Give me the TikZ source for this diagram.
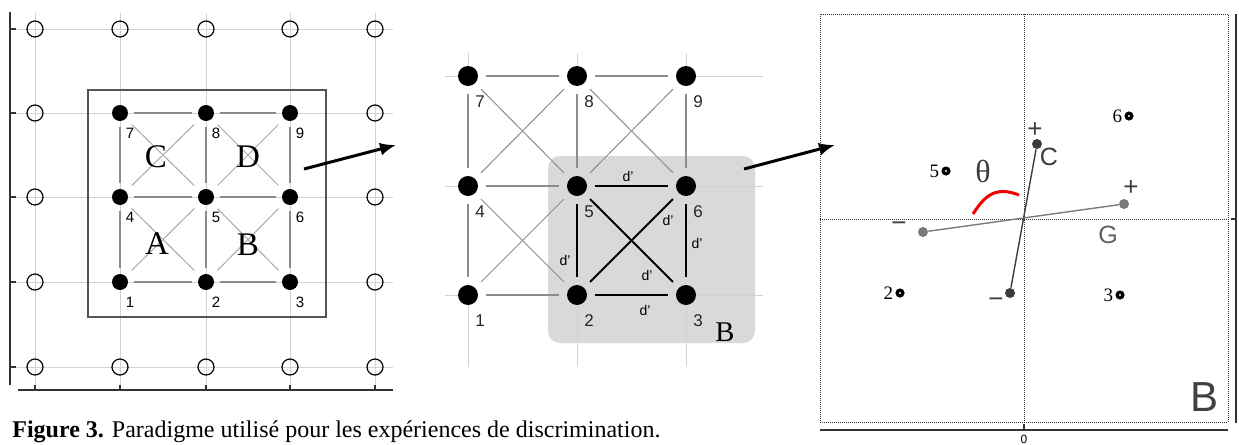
\documentclass[tikz,border=0pt]{standalone}
\usepackage{fontspec}
\setmainfont{Liberation Serif}
\setsansfont{Liberation Sans}
\usetikzlibrary{arrows.meta}
\definecolor{gridlt}{HTML}{D2D2D2}
\definecolor{linkgr}{HTML}{8C8C8C}
\definecolor{diaggr}{HTML}{A8A8A8}
\definecolor{boxgr}{HTML}{555555}
\definecolor{zonegr}{HTML}{D9D9D9}
\definecolor{axisgr}{HTML}{333333}
\definecolor{headC}{HTML}{3C3C3C}
\definecolor{headG}{HTML}{7A7A7A}
\definecolor{anglered}{HTML}{F00000}
\tikzset{
  dot/.style    ={circle, inner sep=0pt},
  opendot/.style={dot, minimum size=8pt, draw=black, line width=0.6pt},
  fulldot/.style={dot, minimum size=8pt, fill=black},
  middot/.style ={dot, minimum size=10pt, fill=black},
  stimdot/.style={dot, minimum size=4.6pt, fill=black,
                  path picture={\fill[white] (path picture bounding box.center) circle (0.6pt);}},
  cdot/.style   ={dot, minimum size=5pt, fill=headC},
  gdot/.style   ={dot, minimum size=5pt, fill=headG},
  % light grid behind the stimuli
  gridline/.style={draw=gridlt, line width=0.5pt},
  side/.style   ={draw=linkgr, line width=0.6pt, shorten >=3pt, shorten <=3pt},
  cross/.style  ={draw=diaggr, line width=0.5pt, shorten >=4pt, shorten <=4pt},
  mside/.style  ={draw=linkgr, line width=0.6pt, shorten >=4pt, shorten <=4pt},
  mkey/.style   ={draw=black, line width=1pt, shorten >=4pt, shorten <=4pt},
  axis/.style   ={draw=axisgr, line width=0.8pt},
  dotline/.style={draw=axisgr, line width=0.5pt, dash pattern=on 0.5pt off 0.5pt},
  jump/.style   ={draw=black, line width=1.5pt, -{Latex[length=8pt,width=6.5pt]}},
  ldigit/.style ={inner sep=0pt, font=\sffamily\fontsize{7.5}{8}\selectfont},
  mdigit/.style ={inner sep=0pt, font=\sffamily\fontsize{8.5}{9}\selectfont, text=black!85},
  dist/.style   ={inner sep=0pt, font=\sffamily\fontsize{7}{8}\selectfont},
  cell/.style   ={inner sep=0pt, font=\fontsize{16.5}{18}\selectfont},
  rdigit/.style ={inner sep=0.8pt, font=\fontsize{9.5}{10}\selectfont},
  sign/.style   ={inner sep=0pt, font=\sffamily\fontsize{13}{14}\selectfont, text=headC},
  axislab/.style={inner sep=0pt, font=\sffamily\fontsize{12.5}{14}\selectfont, text=headC},
}
\def\lcols{35,120,206,290,375}
\def\lrows{29,113,197,282,367}
\def\leftnodes{1/120/282, 2/206/282, 3/290/282, 4/120/197, 5/206/197,
               6/290/197, 7/120/113, 8/206/113, 9/290/113}
\def\midnodes{1/468/295, 2/577/295, 3/686/295, 4/468/186, 5/577/186,
              6/686/186, 7/468/76, 8/577/76, 9/686/76}
\def\sideedges{1/2, 2/3, 4/5, 5/6, 7/8, 8/9, 1/4, 4/7, 2/5, 5/8, 3/6, 6/9}
\def\crossedges{1/5, 2/4, 2/6, 3/5, 4/8, 5/7, 5/9, 6/8}

\begin{document}
\begin{tikzpicture}[x=0.5pt, y=-0.5pt]
  \useasboundingbox (0,0) rectangle (1239,445);

  % ---- left: full grid of positions
  \foreach \x in \lcols {\draw[gridline] (\x,13) -- (\x,388);}
  \foreach \y in \lrows {\draw[gridline] (16,\y) -- (393,\y);}
  \draw[axis] (10,12) -- (10,385);
  \draw[axis] (18,390) -- (393,390);
  \foreach \y in \lrows {\draw[axis] (10,\y) -- (16,\y);}
  \foreach \x in \lcols {\draw[axis] (\x,390) -- (\x,385);}
  \foreach \x in \lcols {\node[opendot] (oT\x) at (\x,29) {};
                         \node[opendot] (oB\x) at (\x,367) {};}
  \foreach \y in {113,197,282} {\node[opendot] (oL\y) at (35,\y) {};
                                \node[opendot] (oR\y) at (375,\y) {};}
  \draw[boxgr, line width=1.2pt] (88,90) rectangle (326,317);
  \foreach \n/\x/\y in \leftnodes {\node[fulldot] (L\n) at (\x,\y) {};
                                   \node[ldigit] (Lt\n) at (\x+10,\y+20) {\n};}
  \foreach \a/\b in \sideedges  {\draw[side] (L\a) -- (L\b);}
  \foreach \a/\b in \crossedges {\draw[cross] (L\a) -- (L\b);}
  \foreach \t/\x/\y in {C/156/157, D/248/157, A/157/244, B/248/245}
    {\node[cell] (cell\t) at (\x,\y) {\t};}

  \coordinate (j1s) at (304,169);
  \coordinate (j1e) at (396,145);
  \draw[jump] (j1s) -- (j1e);

  % ---- middle: zoom on cell B
  \fill[zonegr, rounded corners=6pt] (548,156) rectangle (755,343);
  \foreach \n/\x/\y in \midnodes {\node[middot] (M\n) at (\x,\y) {};
                                  \node[mdigit] (Mt\n) at (\x+12,\y+26) {\n};}
  \foreach \y/\w/\e in {295/1/3, 186/4/6, 76/7/9}
    {\draw[gridline] (445,\y) -- (M\w); \draw[gridline] (M\e) -- (763,\y);}
  \foreach \x/\s/\t in {468/1/7, 577/2/8, 686/3/9}
    {\draw[gridline] (\x,53) -- (M\t); \draw[gridline] (M\s) -- (\x,367);}
  \foreach \a/\b in {1/2, 4/5, 7/8, 8/9, 1/4, 4/7, 5/8, 6/9}
    {\draw[mside] (M\a) -- (M\b);}
  \foreach \a/\b in {1/5, 2/4, 4/8, 5/7, 5/9, 6/8}
    {\draw[mside, line width=0.5pt] (M\a) -- (M\b);}
  \foreach \a/\b in {2/3, 5/6, 2/5, 3/6, 2/6, 3/5}
    {\draw[mkey] (M\a) -- (M\b);}
  \foreach \k/\x/\y in {a/628/176, b/668/220, c/697/243, d/565/260, e/647/275, f/645/310}
    {\node[dist] (d\k) at (\x,\y) {d'};}
  \node[inner sep=0pt, font=\fontsize{14.3}{16}\selectfont] (zoneB) at (725,332) {B};

  \coordinate (j2s) at (744,169);
  \coordinate (j2e) at (835,145);
  \draw[jump] (j2s) -- (j2e);

  % ---- right: stimulus plane with the two axes C and G
  \draw[dotline] (820,14) rectangle (1228,422);
  \draw[dotline] (1024,14) -- (1024,422);
  \draw[dotline] (820,219) -- (1228,219);
  \draw[axis] (1236,14) -- (1236,423);
  \draw[axis] (820,430) -- (1228,430);
  \draw[axis] (1024,430) -- (1024,424);
  \draw[axis] (1236,219) -- (1231,219);
  \node[inner sep=0pt, font=\sffamily\fontsize{6}{7}\selectfont] (zero) at (1024,439) {0};

  \foreach \n/\x/\y in {5/946/171, 6/1129/116, 2/900/293, 3/1120/295}
    {\node[stimdot, label={[rdigit]left:\n}] (R\n) at (\x,\y) {};}

  \node[cdot] (Cp) at (1037,144) {};
  \node[cdot] (Cm) at (1010,293) {};
  \node[gdot] (Gp) at (1124,204) {};
  \node[gdot] (Gm) at (923,232) {};
  \draw[headC, line width=0.7pt] (Cp) -- (Cm);
  \draw[headG, line width=0.7pt] (Gp) -- (Gm);

  \node[sign] (sCp) at (1035,130) {+};
  \node[sign] (sGp) at (1131,188) {+};
  \node[sign] (sGm) at (899,227) {−};
  \node[sign] (sCm) at (996,303) {−};
  \node[axislab] (labC) at (1049,157) {C};
  \node[axislab, text=headG!80!black] (labG) at (1108,235) {G};
  \node[inner sep=0pt, font=\fontsize{16}{18}\selectfont, text=headC] (theta) at (983,171) {θ};
  \draw[anglered, line width=1.5pt] (973,214) .. controls (988,190) and (1000,188) .. (1019,195);
  \node[inner sep=0pt, font=\sffamily\fontsize{21}{24}\selectfont, text=black!75] (planeB) at (1205,397) {B};

  % ---- caption
  \node[anchor=base west, inner sep=0pt, font=\fontsize{12}{14}\selectfont] (caption) at (12,437)
    {\textbf{Figure 3.} Paradigme utilisé pour les expériences de discrimination.};
\end{tikzpicture}
\end{document}
